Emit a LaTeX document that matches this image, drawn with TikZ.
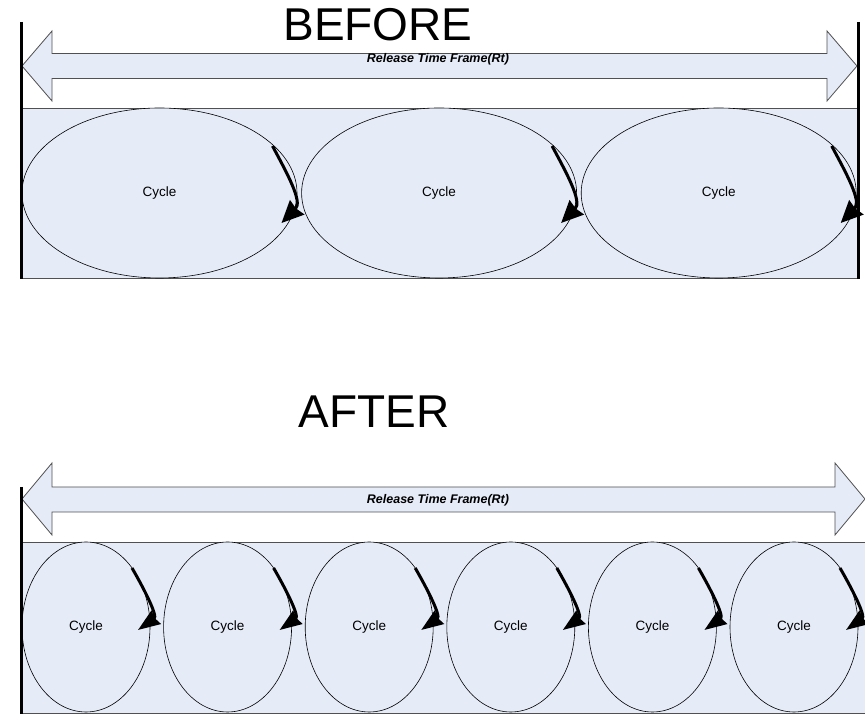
\documentclass[tikz,border=0pt]{standalone}
\usepackage{fontspec}
\setmainfont{Liberation Sans}
\usetikzlibrary{positioning, shapes.geometric, arrows.meta, calc}
\definecolor{paleblue}{RGB}{229,235,247}
\definecolor{rimgray}{RGB}{80,80,80}

\begin{document}
\begin{tikzpicture}[x=1pt, y=1pt, node distance=4pt,
		wall/.style={line width=3pt},
		band/.style={fill=paleblue, draw=rimgray, line width=0.8pt},
		span/.style={fill=paleblue, draw=rimgray, line width=0.8pt, line join=miter},
		heading/.style={font=\fontsize{46}{55}\selectfont, anchor=base},
		rtlabel/.style={font=\fontsize{12.5}{15}\selectfont\bfseries\itshape},
		cyc/.style={draw, ellipse, fill=paleblue, line width=0.6pt, inner sep=0pt,
			font=\fontsize{13.5}{16}\selectfont},
		longcyc/.style={cyc, minimum width=275pt, minimum height=170pt},
		shortcyc/.style={cyc, minimum width=128pt, minimum height=170pt},
		turn/.style={line width=3pt, -{Stealth[length=22pt, width=20pt, inset=1.5pt]}},
		shortturn/.style={line width=3pt, -{Stealth[length=22pt, width=16pt, inset=1.5pt]}}
	]
	\useasboundingbox (0,0) rectangle (865,714);

	% before
	\node[heading] (before) at (378,673) {BEFORE};
	\draw[span] (22,648) -- (52,683) -- (52,660.5) -- (827,660.5) -- (827,683) -- (857,648)
		-- (827,613) -- (827,635.5) -- (52,635.5) -- (52,613) -- cycle;
	\node[rtlabel] (rtb) at (438,655) {Release Time Frame(Rt)};
	\draw[band] (21,436) rectangle (858,606);

	\node[longcyc]                  (b1) at (159.5,521) {Cycle};
	\node[longcyc, right=of b1]     (b2) {Cycle};
	\node[longcyc, right=of b2]     (b3) {Cycle};

	\foreach \c in {b1,b2,b3}
		\draw[turn] ($(\c)+(113,47)$) to[out=-62, in=45] ($(\c)+(122,-30)$);

	\draw[wall] (21,692) -- (21,435);
	\draw[wall] (858,692) -- (858,435);

	% after
	\node[heading] (after) at (374,286) {AFTER};
	\draw[span] (22,215) -- (52,251) -- (52,227) -- (835,227) -- (835,251) -- (865,215)
		-- (835,179) -- (835,202) -- (52,202) -- (52,179) -- cycle;
	\node[rtlabel] (rta) at (438,214) {Release Time Frame(Rt)};
	\draw[band] (21,1) rectangle (870,172);

	\node[shortcyc]                  (a1) at (86,87) {Cycle};
	\node[shortcyc, right=13pt of a1] (a2) {Cycle};
	\node[shortcyc, right=13pt of a2] (a3) {Cycle};
	\node[shortcyc, right=13pt of a3] (a4) {Cycle};
	\node[shortcyc, right=13pt of a4] (a5) {Cycle};
	\node[shortcyc, right=13pt of a5] (a6) {Cycle};

	\foreach \c in {a1,a2,a3,a4,a5,a6}
		\draw[shortturn] ($(\c)+(46,59)$) to[out=-60, in=35] ($(\c)+(52,-3)$);

	\draw[wall] (21,227) -- (21,0);
\end{tikzpicture}
\end{document}
